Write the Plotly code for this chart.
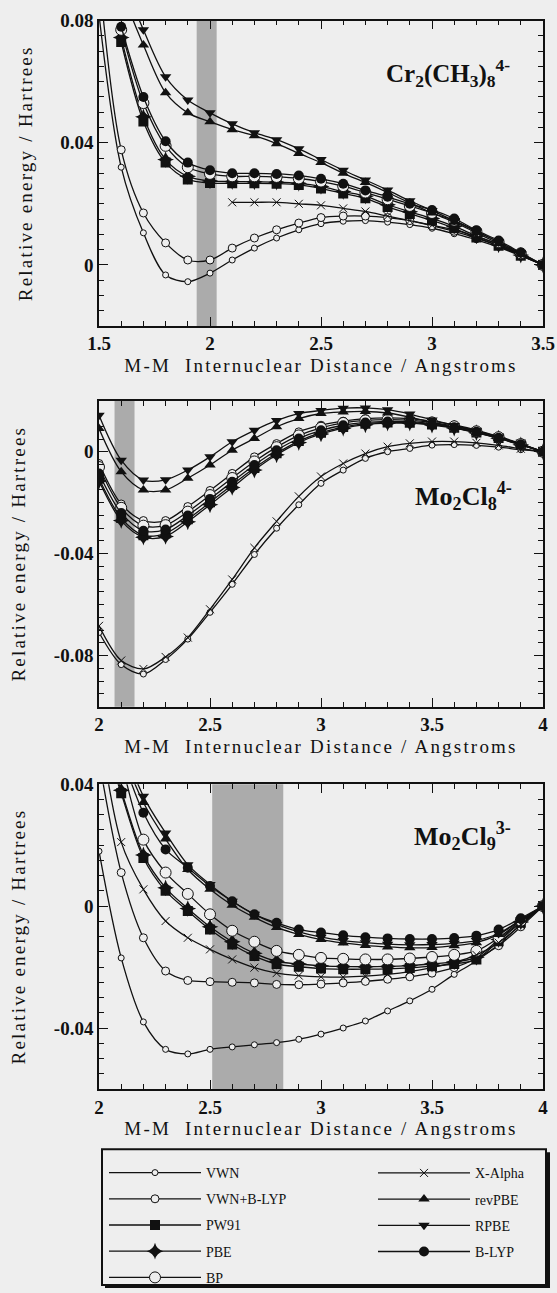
import plotly.graph_objects as go

# ---------------- data ----------------
# Panel 1: Cr2(CH3)8 4-
x1 = [1.5, 1.6, 1.7, 1.8, 1.9, 2.0, 2.1, 2.2, 2.3, 2.4, 2.5, 2.6, 2.7, 2.8, 2.9, 3.0, 3.1, 3.2, 3.3, 3.4, 3.5]
p1_vwn = [0.082, 0.032, 0.0105, -0.0033, -0.0055, -0.0027, 0.0016, 0.0055, 0.0088, 0.0115, 0.0135, 0.0143, 0.0145, 0.014, 0.0132, 0.012, 0.0102, 0.0082, 0.0058, 0.003, 0.0]
p1_vwnblyp = [0.095, 0.0377, 0.017, 0.0072, 0.0016, 0.0016, 0.0055, 0.0088, 0.0115, 0.0137, 0.0155, 0.016, 0.016, 0.0155, 0.0145, 0.0128, 0.011, 0.0088, 0.0062, 0.0032, 0.0]
p1_pw91 = [None, 0.073, 0.047, 0.0335, 0.028, 0.0268, 0.0267, 0.0267, 0.0266, 0.0262, 0.025, 0.0234, 0.0218, 0.019, 0.0167, 0.0146, 0.012, 0.009, 0.0063, 0.003, 0.0]
p1_pbe = [None, 0.0745, 0.0485, 0.0345, 0.029, 0.0275, 0.0273, 0.0272, 0.0271, 0.0267, 0.0257, 0.024, 0.0225, 0.0197, 0.0174, 0.0152, 0.0126, 0.0095, 0.0066, 0.0032, 0.0]
p1_bp = [None, 0.077, 0.053, 0.039, 0.032, 0.0298, 0.029, 0.029, 0.0288, 0.0283, 0.0273, 0.0258, 0.0237, 0.0215, 0.0193, 0.017, 0.0145, 0.011, 0.0075, 0.0038, 0.0]
p1_xalpha = [None, None, None, None, None, None, 0.0205, 0.0205, 0.0205, 0.020, 0.0195, 0.0185, 0.0175, 0.016, 0.0145, 0.013, 0.0115, 0.0093, 0.0068, 0.0035, 0.0]
p1_revpbe = [None, 0.09, 0.072, 0.0564, 0.0498, 0.0469, 0.0443, 0.0423, 0.0397, 0.0365, 0.0335, 0.030, 0.027, 0.0237, 0.0203, 0.017, 0.014, 0.0105, 0.007, 0.0035, 0.0]
p1_rpbe = [None, 0.095, 0.077, 0.0616, 0.054, 0.0498, 0.0462, 0.0433, 0.041, 0.038, 0.0345, 0.031, 0.0278, 0.0245, 0.021, 0.0178, 0.0145, 0.011, 0.0075, 0.0037, 0.0]
p1_blyp = [None, 0.078, 0.055, 0.0405, 0.0335, 0.031, 0.030, 0.030, 0.0298, 0.0293, 0.0282, 0.0266, 0.0244, 0.0223, 0.020, 0.018, 0.0152, 0.0113, 0.008, 0.004, 0.0]

# Panel 2: Mo2Cl8 4-
x2 = [2.0, 2.1, 2.2, 2.3, 2.4, 2.5, 2.6, 2.7, 2.8, 2.9, 3.0, 3.1, 3.2, 3.3, 3.4, 3.5, 3.6, 3.7, 3.8, 3.9, 4.0]
p2_vwn = [-0.0709, -0.0835, -0.0872, -0.0815, -0.0735, -0.063, -0.052, -0.0403, -0.03, -0.0208, -0.0124, -0.0072, -0.0026, 0.0, 0.0013, 0.0026, 0.0028, 0.0025, 0.0018, 0.0008, 0.0]
p2_vwnblyp = [-0.0046, -0.0205, -0.027, -0.027, -0.0215, -0.0152, -0.0085, -0.002, 0.0032, 0.0078, 0.0104, 0.012, 0.013, 0.0133, 0.013, 0.012, 0.0105, 0.0085, 0.006, 0.0032, 0.0]
p2_pw91 = [-0.0105, -0.026, -0.0328, -0.032, -0.0265, -0.0198, -0.013, -0.0064, -0.0006, 0.0042, 0.0075, 0.0097, 0.011, 0.0115, 0.0114, 0.0107, 0.0094, 0.0076, 0.0054, 0.0028, 0.0]
p2_pbe = [-0.0115, -0.027, -0.0335, -0.0332, -0.0275, -0.0208, -0.014, -0.0072, -0.0012, 0.0036, 0.007, 0.0092, 0.0106, 0.0112, 0.0112, 0.0105, 0.0093, 0.0075, 0.0053, 0.0027, 0.0]
p2_bp = [-0.006, -0.022, -0.029, -0.0288, -0.0235, -0.017, -0.0103, -0.0038, 0.0018, 0.0064, 0.0094, 0.0113, 0.0123, 0.0126, 0.0124, 0.0115, 0.0100, 0.008, 0.0057, 0.003, 0.0]
p2_xalpha = [-0.0683, -0.0819, -0.0852, -0.0805, -0.0729, -0.0618, -0.0501, -0.0377, -0.0273, -0.0175, -0.0097, -0.0046, -0.0007, 0.002, 0.0033, 0.004, 0.004, 0.0035, 0.0025, 0.0012, 0.0]
p2_revpbe = [0.0091, -0.0078, -0.015, -0.015, -0.0104, -0.0052, 0.0006, 0.0052, 0.0098, 0.013, 0.015, 0.0156, 0.0158, 0.0152, 0.0136, 0.0115, 0.0095, 0.0075, 0.0052, 0.0027, 0.0]
p2_rpbe = [0.0143, -0.0033, -0.0111, -0.011, -0.0072, -0.002, 0.0039, 0.0084, 0.0123, 0.015, 0.0162, 0.0171, 0.0172, 0.0165, 0.0148, 0.0125, 0.0103, 0.0082, 0.0058, 0.003, 0.0]
p2_blyp = [-0.0085, -0.024, -0.031, -0.0305, -0.025, -0.0185, -0.0118, -0.0052, 0.0006, 0.0052, 0.0084, 0.0104, 0.0115, 0.0119, 0.0118, 0.011, 0.0096, 0.0078, 0.0055, 0.0029, 0.0]

# Panel 3: Mo2Cl9 3-
x3 = [2.0, 2.1, 2.2, 2.3, 2.4, 2.5, 2.6, 2.7, 2.8, 2.9, 3.0, 3.1, 3.2, 3.3, 3.4, 3.5, 3.6, 3.7, 3.8, 3.9, 4.0]
p3_vwn = [0.018, -0.017, -0.038, -0.047, -0.0485, -0.047, -0.0462, -0.0455, -0.0448, -0.0437, -0.042, -0.040, -0.0377, -0.0344, -0.0311, -0.0273, -0.0224, -0.018, -0.0126, -0.006, 0.0]
p3_vwnblyp = [0.048, 0.011, -0.0104, -0.0213, -0.0244, -0.0248, -0.025, -0.0252, -0.0257, -0.0258, -0.0256, -0.0252, -0.0247, -0.024, -0.0232, -0.022, -0.0202, -0.0172, -0.013, -0.0068, 0.0]
p3_pw91 = [0.06, 0.037, 0.0158, 0.005, -0.0016, -0.0077, -0.0126, -0.0164, -0.019, -0.0199, -0.0205, -0.0207, -0.0207, -0.0206, -0.0203, -0.0197, -0.019, -0.0175, -0.0115, -0.0055, 0.0]
p3_pbe = [0.062, 0.038, 0.0168, 0.006, -0.0008, -0.0068, -0.0117, -0.0155, -0.0181, -0.019, -0.0196, -0.0198, -0.0199, -0.0198, -0.0195, -0.019, -0.0183, -0.0168, -0.011, -0.0052, 0.0]
p3_bp = [0.07, 0.047, 0.0218, 0.011, 0.004, -0.0027, -0.0081, -0.0117, -0.0147, -0.016, -0.017, -0.0173, -0.0175, -0.0175, -0.0172, -0.0167, -0.016, -0.0147, -0.0104, -0.0048, 0.0]
p3_xalpha = [0.06, 0.021, 0.0055, -0.0049, -0.0104, -0.0142, -0.0175, -0.0202, -0.022, -0.0228, -0.0232, -0.0233, -0.023, -0.0224, -0.0215, -0.0202, -0.0185, -0.016, -0.012, -0.0062, 0.0]
p3_revpbe = [0.078, 0.052, 0.034, 0.022, 0.012, 0.0055, 0.0003, -0.0037, -0.007, -0.0093, -0.011, -0.0121, -0.0129, -0.0134, -0.0137, -0.0136, -0.013, -0.012, -0.0093, -0.0046, 0.0]
p3_rpbe = [0.08, 0.055, 0.036, 0.024, 0.0136, 0.0071, 0.0016, -0.0027, -0.006, -0.0085, -0.0102, -0.0113, -0.012, -0.0125, -0.0127, -0.0126, -0.0122, -0.0113, -0.009, -0.0045, 0.0]
p3_blyp = [0.075, 0.05, 0.0306, 0.0186, 0.0126, 0.0066, 0.0016, -0.0027, -0.0055, -0.0077, -0.0087, -0.0096, -0.0102, -0.0106, -0.0108, -0.0108, -0.0105, -0.0097, -0.0077, -0.004, 0.0]

series_names = ["VWN", "VWN+B-LYP", "PW91", "PBE", "BP", "X-Alpha", "revPBE", "RPBE", "B-LYP"]

# shaded ranges (x data units)
band1 = [1.94, 2.03]
band2 = [2.07, 2.16]
band3 = [2.51, 2.83]

# tick labels
p1_xticks = [1.5, 2, 2.5, 3, 3.5]
p1_xtext = ["1.5", "2", "2.5", "3", "3.5"]
p23_xticks = [2, 2.5, 3, 3.5, 4]
p23_xtext = ["2", "2.5", "3", "3.5", "4"]
p1_yticks = [0, 0.04, 0.08]
p1_ytext = ["0", "0.04", "0.08"]
p2_yticks = [-0.08, -0.04, 0]
p2_ytext = ["-0.08", "-0.04", "0"]
p3_yticks = [-0.04, 0, 0.04]
p3_ytext = ["-0.04", "0", "0.04"]

titles = ["<b>Cr<sub>2</sub>(CH<sub>3</sub>)<sub>8</sub><sup>4-</sup></b>",
          "<b>Mo<sub>2</sub>Cl<sub>8</sub><sup>4-</sup></b>",
          "<b>Mo<sub>2</sub>Cl<sub>9</sub><sup>3-</sup></b>"]
xtitle = "M-M  Internuclear Distance / Angstroms"
ytitle = "Relative energy / Hartrees"

# ---------------- styles ----------------
W, H = 557, 1293
BG = "#eeeeee"
FONT = "Liberation Serif"
K = "#111111"

styles = {
    "VWN": dict(symbol="circle", size=6, color=BG, line=dict(color=K, width=1)),
    "VWN+B-LYP": dict(symbol="circle", size=8, color=BG, line=dict(color=K, width=1)),
    "PW91": dict(symbol="square", size=10, color=K),
    "PBE": dict(symbol="star-diamond", size=12, color=K),
    "BP": dict(symbol="circle", size=11, color=BG, line=dict(color=K, width=1)),
    "X-Alpha": dict(symbol="x-thin", size=8, color=K, line=dict(color=K, width=1)),
    "revPBE": dict(symbol="triangle-up", size=10, color=K),
    "RPBE": dict(symbol="triangle-down", size=10, color=K),
    "B-LYP": dict(symbol="circle", size=10, color=K),
}
legend_of = {"VWN": "legend", "VWN+B-LYP": "legend", "PW91": "legend", "PBE": "legend", "BP": "legend",
             "X-Alpha": "legend2", "revPBE": "legend2", "RPBE": "legend2", "B-LYP": "legend2"}

panels = [
    (x1, [p1_vwn, p1_vwnblyp, p1_pw91, p1_pbe, p1_bp, p1_xalpha, p1_revpbe, p1_rpbe, p1_blyp], "x", "y"),
    (x2, [p2_vwn, p2_vwnblyp, p2_pw91, p2_pbe, p2_bp, p2_xalpha, p2_revpbe, p2_rpbe, p2_blyp], "x2", "y2"),
    (x3, [p3_vwn, p3_vwnblyp, p3_pw91, p3_pbe, p3_bp, p3_xalpha, p3_revpbe, p3_rpbe, p3_blyp], "x3", "y3"),
]

fig = go.Figure()
for pi, (xs, ys_list, xa, ya) in enumerate(panels):
    for name, ys in zip(series_names, ys_list):
        fig.add_trace(go.Scatter(
            x=xs, y=ys, xaxis=xa, yaxis=ya, name=name, mode="lines+markers",
            line=dict(color=K, width=1.3, shape="spline", smoothing=0.9),
            marker=styles[name], legendgroup=name, legend=legend_of[name],
            showlegend=(pi == 0), connectgaps=False,
        ))

# ---------------- layout ----------------
def px_x(p):
    return p / W

def px_y(p):
    return 1 - p / H

xdom = [px_x(99), px_x(543)]
ydoms = [[px_y(326.7), px_y(20.7)], [px_y(708.3), px_y(401.7)], [px_y(1091.5), px_y(786)]]
xranges = [[1.5, 3.5], [2, 4], [2, 4]]
yranges = [[-0.02, 0.08], [-0.1, 0.02], [-0.06, 0.04]]
xtick_sets = [(p1_xticks, p1_xtext), (p23_xticks, p23_xtext), (p23_xticks, p23_xtext)]
ytick_sets = [(p1_yticks, p1_ytext), (p2_yticks, p2_ytext), (p3_yticks, p3_ytext)]

tickfont = dict(family=FONT, size=19, color=K, weight="bold")
titlefont = dict(family=FONT, size=19, color=K)
SP = "<span style='letter-spacing:2.2px'>%s</span>"
layout = dict(
    width=W, height=H, margin=dict(l=0, r=0, t=0, b=0),
    paper_bgcolor=BG, plot_bgcolor=BG, template="none", showlegend=True,
)
for i in range(3):
    sfx = "" if i == 0 else str(i + 1)
    layout["xaxis" + sfx] = dict(
        domain=xdom, anchor="y" + sfx, range=xranges[i],
        tickmode="array", tickvals=xtick_sets[i][0], ticktext=xtick_sets[i][1],
        ticks="inside", ticklen=9, tickwidth=1.2, tickcolor=K,
        minor=dict(tickmode="linear", tick0=xranges[i][0], dtick=0.1, ticks="inside", ticklen=5, tickcolor=K, showgrid=False),
        showline=True, linecolor=K, linewidth=1.5, mirror="allticks",
        showgrid=False, zeroline=False, tickfont=tickfont, automargin=False,
        title=dict(text=SP % xtitle, font=titlefont, standoff=5),
    )
    layout["yaxis" + sfx] = dict(
        domain=ydoms[i], anchor="x" + sfx, range=yranges[i],
        tickmode="array", tickvals=ytick_sets[i][0], ticktext=ytick_sets[i][1],
        ticks="inside", ticklen=9, tickwidth=1.2, tickcolor=K,
        minor=dict(tickmode="linear", tick0=0, dtick=0.005, ticks="inside", ticklen=5, tickcolor=K, showgrid=False),
        showline=True, linecolor=K, linewidth=1.5, mirror="allticks",
        showgrid=False, zeroline=False, tickfont=tickfont, automargin=False,
        title=dict(text=SP % ytitle, font=titlefont, standoff=23),
    )

shapes = []
for i, band in enumerate([band1, band2, band3]):
    sfx = "" if i == 0 else str(i + 1)
    shapes.append(dict(type="rect", xref="x" + sfx, yref="y" + sfx + " domain", x0=band[0], x1=band[1],
                       y0=0, y1=1, fillcolor="#ababab", line=dict(width=0), layer="below"))
# legend frame with shadow
shapes.append(dict(type="rect", xref="paper", yref="paper", x0=px_x(105), x1=px_x(550), y0=px_y(1291), y1=px_y(1155),
                   fillcolor=K, line=dict(width=0), layer="above"))
shapes.append(dict(type="rect", xref="paper", yref="paper", x0=px_x(102), x1=px_x(546), y0=px_y(1288), y1=px_y(1152),
                   fillcolor=BG, line=dict(color=K, width=2), layer="above"))
layout["shapes"] = shapes

title_pos = [(448, 73), (463, 497), (462, 838)]
layout["annotations"] = [
    dict(text=t, x=px_x(p[0]), y=px_y(p[1]), xref="paper", yref="paper", showarrow=False,
         font=dict(family=FONT, size=25 if k == 0 else 26, color=K), xanchor="center", yanchor="middle")
    for k, (t, p) in enumerate(zip(titles, title_pos))
]

legfont = dict(family=FONT, size=14, color=K)
layout["legend"] = dict(x=px_x(104), y=px_y(1160), xanchor="left", yanchor="top", bgcolor="rgba(0,0,0,0)",
                        borderwidth=0, itemwidth=92, font=legfont, tracegroupgap=5, traceorder="grouped",
                        orientation="v")
layout["legend2"] = dict(x=px_x(373), y=px_y(1160), xanchor="left", yanchor="top", bgcolor="rgba(0,0,0,0)",
                         borderwidth=0, itemwidth=92, font=legfont, tracegroupgap=5, traceorder="grouped",
                         orientation="v")

fig.update_layout(**layout)
fig.write_html("out.html", config={"displayModeBar": False},
               post_script="document.body.style.margin='0';document.body.style.overflow='hidden';")
